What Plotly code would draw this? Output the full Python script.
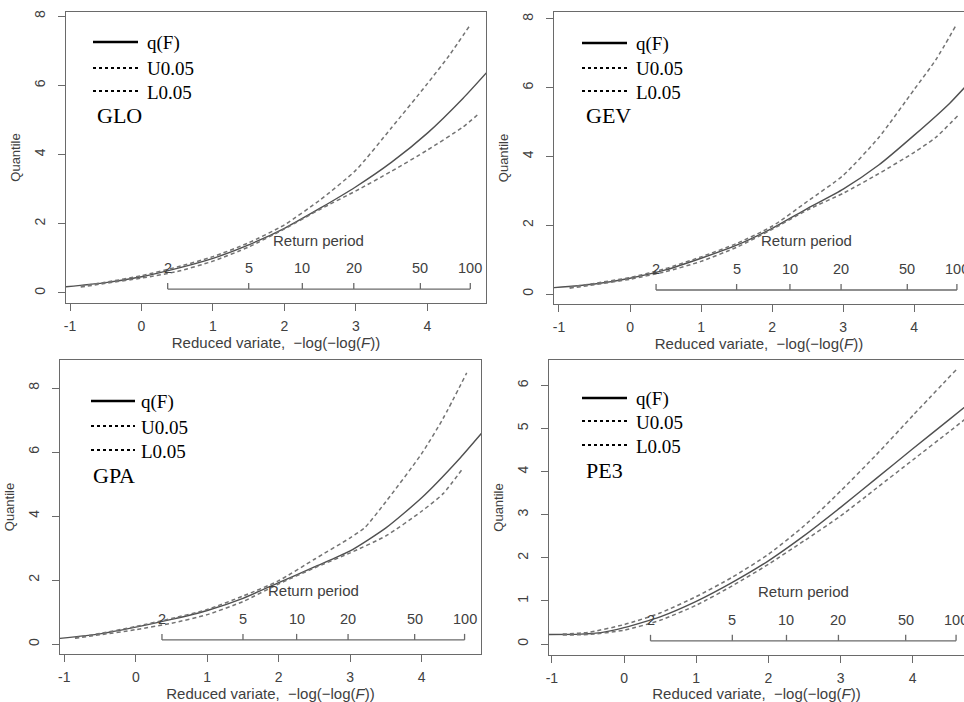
import math
import plotly.graph_objects as go

W, H = 964, 702

# ---------------- data ----------------
panel_names = ["GLO", "GEV", "GPA", "PE3"]

# GLO
glo_q_x = [-1.1, -0.5, 0, 0.5, 1, 1.5, 2, 2.5, 3, 3.5, 4, 4.5, 4.85]
glo_q_y = [0.17, 0.30, 0.47, 0.71, 1.00, 1.39, 1.87, 2.45, 3.07, 3.78, 4.62, 5.63, 6.42]
glo_u_x = [-0.85, -0.5, 0, 0.5, 1, 1.5, 2, 2.5, 3, 3.5, 4, 4.3, 4.6]
glo_u_y = [0.20, 0.31, 0.50, 0.75, 1.05, 1.45, 1.97, 2.69, 3.55, 4.78, 6.05, 6.85, 7.75]
glo_l_x = [-0.85, -0.5, 0, 0.5, 1, 1.5, 2, 2.5, 3, 3.5, 4, 4.5, 4.73]
glo_l_y = [0.17, 0.28, 0.43, 0.62, 0.92, 1.33, 1.85, 2.42, 2.95, 3.52, 4.13, 4.80, 5.20]

# GEV
gev_q_x = [-1.1, -0.5, 0, 0.5, 1, 1.5, 2, 2.5, 3, 3.5, 4, 4.5, 4.75]
gev_q_y = [0.18, 0.29, 0.46, 0.70, 1.04, 1.42, 1.91, 2.49, 3.05, 3.75, 4.62, 5.55, 6.10]
gev_u_x = [-0.85, -0.5, 0, 0.5, 1, 1.5, 2, 2.5, 3, 3.5, 4, 4.3, 4.59]
gev_u_y = [0.20, 0.31, 0.48, 0.74, 1.08, 1.47, 1.97, 2.70, 3.45, 4.55, 5.95, 6.80, 7.82]
gev_l_x = [-0.85, -0.5, 0, 0.5, 1, 1.5, 2, 2.5, 3, 3.5, 4, 4.3, 4.62]
gev_l_y = [0.17, 0.27, 0.43, 0.65, 0.95, 1.36, 1.88, 2.45, 2.93, 3.50, 4.12, 4.55, 5.20]

# GPA
gpa_q_x = [-1.1, -0.5, 0, 0.5, 1, 1.5, 2, 2.5, 3, 3.5, 4, 4.5, 4.85]
gpa_q_y = [0.17, 0.32, 0.53, 0.77, 1.05, 1.43, 1.92, 2.41, 2.91, 3.63, 4.57, 5.72, 6.62]
gpa_u_x = [-0.85, -0.5, 0, 0.5, 1, 1.5, 2, 2.5, 3, 3.2, 3.5, 4, 4.3, 4.63]
gpa_u_y = [0.20, 0.33, 0.55, 0.80, 1.08, 1.50, 1.98, 2.65, 3.32, 3.63, 4.45, 5.95, 7.05, 8.47]
gpa_l_x = [-0.85, -0.5, 0, 0.5, 1, 1.5, 2, 2.5, 3, 3.5, 4, 4.3, 4.58]
gpa_l_y = [0.18, 0.29, 0.45, 0.65, 0.92, 1.33, 1.88, 2.38, 2.85, 3.38, 4.15, 4.70, 5.50]

# PE3
pe3_q_x = [-1.1, -0.6, -0.3, 0, 0.35, 0.5, 1, 1.5, 2, 2.5, 3, 3.5, 4, 4.5, 4.75]
pe3_q_y = [0.22, 0.23, 0.27, 0.38, 0.55, 0.63, 0.99, 1.43, 1.93, 2.52, 3.17, 3.85, 4.53, 5.20, 5.54]
pe3_u_x = [-0.85, -0.5, 0, 0.5, 1, 1.5, 2, 2.5, 3, 3.5, 4, 4.6]
pe3_u_y = [0.23, 0.27, 0.45, 0.72, 1.10, 1.55, 2.08, 2.75, 3.55, 4.40, 5.30, 6.36]
pe3_l_x = [-0.85, -0.5, 0, 0.5, 1, 1.5, 2, 2.5, 3, 3.5, 4, 4.5, 4.75]
pe3_l_y = [0.21, 0.22, 0.32, 0.55, 0.90, 1.35, 1.85, 2.40, 2.97, 3.62, 4.27, 4.92, 5.25]

series = {
    "GLO": (glo_q_x, glo_q_y, glo_u_x, glo_u_y, glo_l_x, glo_l_y),
    "GEV": (gev_q_x, gev_q_y, gev_u_x, gev_u_y, gev_l_x, gev_l_y),
    "GPA": (gpa_q_x, gpa_q_y, gpa_u_x, gpa_u_y, gpa_l_x, gpa_l_y),
    "PE3": (pe3_q_x, pe3_q_y, pe3_u_x, pe3_u_y, pe3_l_x, pe3_l_y),
}

legend_labels = ["q(F)", "U0.05", "L0.05"]
return_periods = [2, 5, 10, 20, 50, 100]
x_tick_vals = [-1, 0, 1, 2, 3, 4]
x_tick_text = ["-1", "0", "1", "2", "3", "4"]
y_ticks = {"GLO": [0, 2, 4, 6, 8], "GEV": [0, 2, 4, 6, 8],
           "GPA": [0, 2, 4, 6, 8], "PE3": [0, 1, 2, 3, 4, 5, 6]}

# ---------------- layout geometry (pixels) ----------------
geom = {
    "GLO": dict(xd=(66, 486), yd=(12, 303), xr=(-1.056, 4.82), yr=(-0.29, 8.12), right=True,
                leg=(93, 138, 145, [42, 68, 91], (95, 115))),
    "GEV": dict(xd=(554, 964), yd=(12, 304), xr=(-1.07, 4.70), yr=(-0.29, 8.20), right=False,
                leg=(582, 627, 634, [43, 68, 91], (584, 116))),
    "GPA": dict(xd=(60, 481), yd=(360, 654), xr=(-1.06, 4.83), yr=(-0.31, 8.875), right=True,
                leg=(91, 135, 139, [401, 426, 450], (91, 475))),
    "PE3": dict(xd=(549, 964), yd=(360, 655), xr=(-1.04, 4.71), yr=(-0.255, 6.59), right=False,
                leg=(582, 627, 634, [398, 421, 445], (584, 471))),
}

AX = "#6a6a6a"
TXT = "#404040"
SANS = "Liberation Sans, Arial, sans-serif"
SERIF = "Liberation Serif, Times New Roman, serif"

def px(x):
    return x / W

def py(y):
    return 1 - y / H

fig = go.Figure()
layout = dict(width=W, height=H, margin=dict(l=0, r=0, t=0, b=0),
              paper_bgcolor="white", plot_bgcolor="white", showlegend=False)
shapes, annotations = [], []

rp_x = [-math.log(-math.log(1 - 1 / T)) for T in return_periods]

for i, name in enumerate(panel_names, start=1):
    g = geom[name]
    xa = "x" if i == 1 else f"x{i}"
    ya = "y" if i == 1 else f"y{i}"
    qx, qy, ux, uy, lx, ly = series[name]

    fig.add_trace(go.Scatter(x=qx, y=qy, mode="lines", xaxis=xa, yaxis=ya,
                             line=dict(color="#505050", width=1.4, shape="spline", smoothing=0.6),
                             name="q(F)"))
    fig.add_trace(go.Scatter(x=ux, y=uy, mode="lines", xaxis=xa, yaxis=ya,
                             line=dict(color="#737373", width=1.5, dash="4px,3px",
                                       shape="spline", smoothing=0.6),
                             name="U0.05"))
    fig.add_trace(go.Scatter(x=lx, y=ly, mode="lines", xaxis=xa, yaxis=ya,
                             line=dict(color="#737373", width=1.5, dash="4px,3px",
                                       shape="spline", smoothing=0.6),
                             name="L0.05"))

    # return-period axis inside the plot
    y0, y1 = g["yr"]
    hpx = g["yd"][1] - g["yd"][0]
    upp = (y1 - y0) / hpx
    y_rp = y0 + 0.048 * (y1 - y0)
    tick = 6 * upp
    rx, ry = [rp_x[0], rp_x[-1], None], [y_rp, y_rp, None]
    for v in rp_x:
        rx += [v, v, None]
        ry += [y_rp, y_rp + tick, None]
    fig.add_trace(go.Scatter(x=rx, y=ry, mode="lines", xaxis=xa, yaxis=ya,
                             line=dict(color=AX, width=1.3), hoverinfo="skip"))
    for T, v in zip(return_periods, rp_x):
        annotations.append(dict(x=v, y=y_rp, xref=xa, yref=ya, text=str(T), showarrow=False,
                                yshift=21, font=dict(family=SANS, size=14.5, color=TXT)))
    annotations.append(dict(x=(rp_x[0] + rp_x[-1]) / 2, y=y_rp, xref=xa, yref=ya,
                            text="Return period", showarrow=False, yshift=49,
                            font=dict(family=SANS, size=15, color=TXT)))

    xd = [px(g["xd"][0]), min(1.0, px(g["xd"][1]))]
    yd = [py(g["yd"][1]), py(g["yd"][0])]
    layout["xaxis" if i == 1 else f"xaxis{i}"] = dict(
        domain=xd, range=list(g["xr"]), anchor=ya, tickvals=x_tick_vals, ticktext=x_tick_text,
        ticks="outside", ticklen=7, tickwidth=1.2, tickcolor=AX, showline=True, linecolor=AX,
        linewidth=1.3, mirror=True, showgrid=False, zeroline=False, automargin=False,
        ticklabelstandoff=3,
        tickfont=dict(family=SANS, size=14, color=TXT),
        title=dict(text="Reduced variate,  \u2212log(\u2212log(<i>F</i>))", standoff=4,
                   font=dict(family=SANS, size=15, color=TXT)))
    layout["yaxis" if i == 1 else f"yaxis{i}"] = dict(
        domain=yd, range=list(g["yr"]), anchor=xa, tickvals=y_ticks[name], tickangle=-90,
        ticks="outside", ticklen=7, tickwidth=1.2, tickcolor=AX, showline=True, linecolor=AX,
        linewidth=1.3, mirror=g["right"], showgrid=False, zeroline=False, automargin=False,
        ticklabelstandoff=7,
        tickfont=dict(family=SANS, size=14, color=TXT),
        title=dict(text="Quantile", standoff=8, font=dict(family=SANS, size=13, color=TXT)))

    # legend drawn in the panel's top-left corner
    lx0, lx1, tx, rows, (nx, ny) = g["leg"]
    for k, (lab, ry_) in enumerate(zip(legend_labels, rows)):
        shapes.append(dict(type="line", xref="paper", yref="paper",
                           x0=px(lx0), x1=px(lx1), y0=py(ry_), y1=py(ry_),
                           line=dict(color="black", width=2.6 if k == 0 else 2,
                                     dash="solid" if k == 0 else "dot")))
        annotations.append(dict(x=px(tx), y=py(ry_ + 1), xref="paper", yref="paper", text=lab,
                                showarrow=False, xanchor="left", yanchor="middle",
                                font=dict(family=SERIF, size=19, color="black")))
    annotations.append(dict(x=px(nx), y=py(ny), xref="paper", yref="paper", text=name,
                            showarrow=False, xanchor="left", yanchor="middle",
                            font=dict(family=SERIF, size=22, color="black")))

layout["shapes"] = shapes
layout["annotations"] = annotations
fig.update_layout(**layout)
fig.write_html("out.html")
